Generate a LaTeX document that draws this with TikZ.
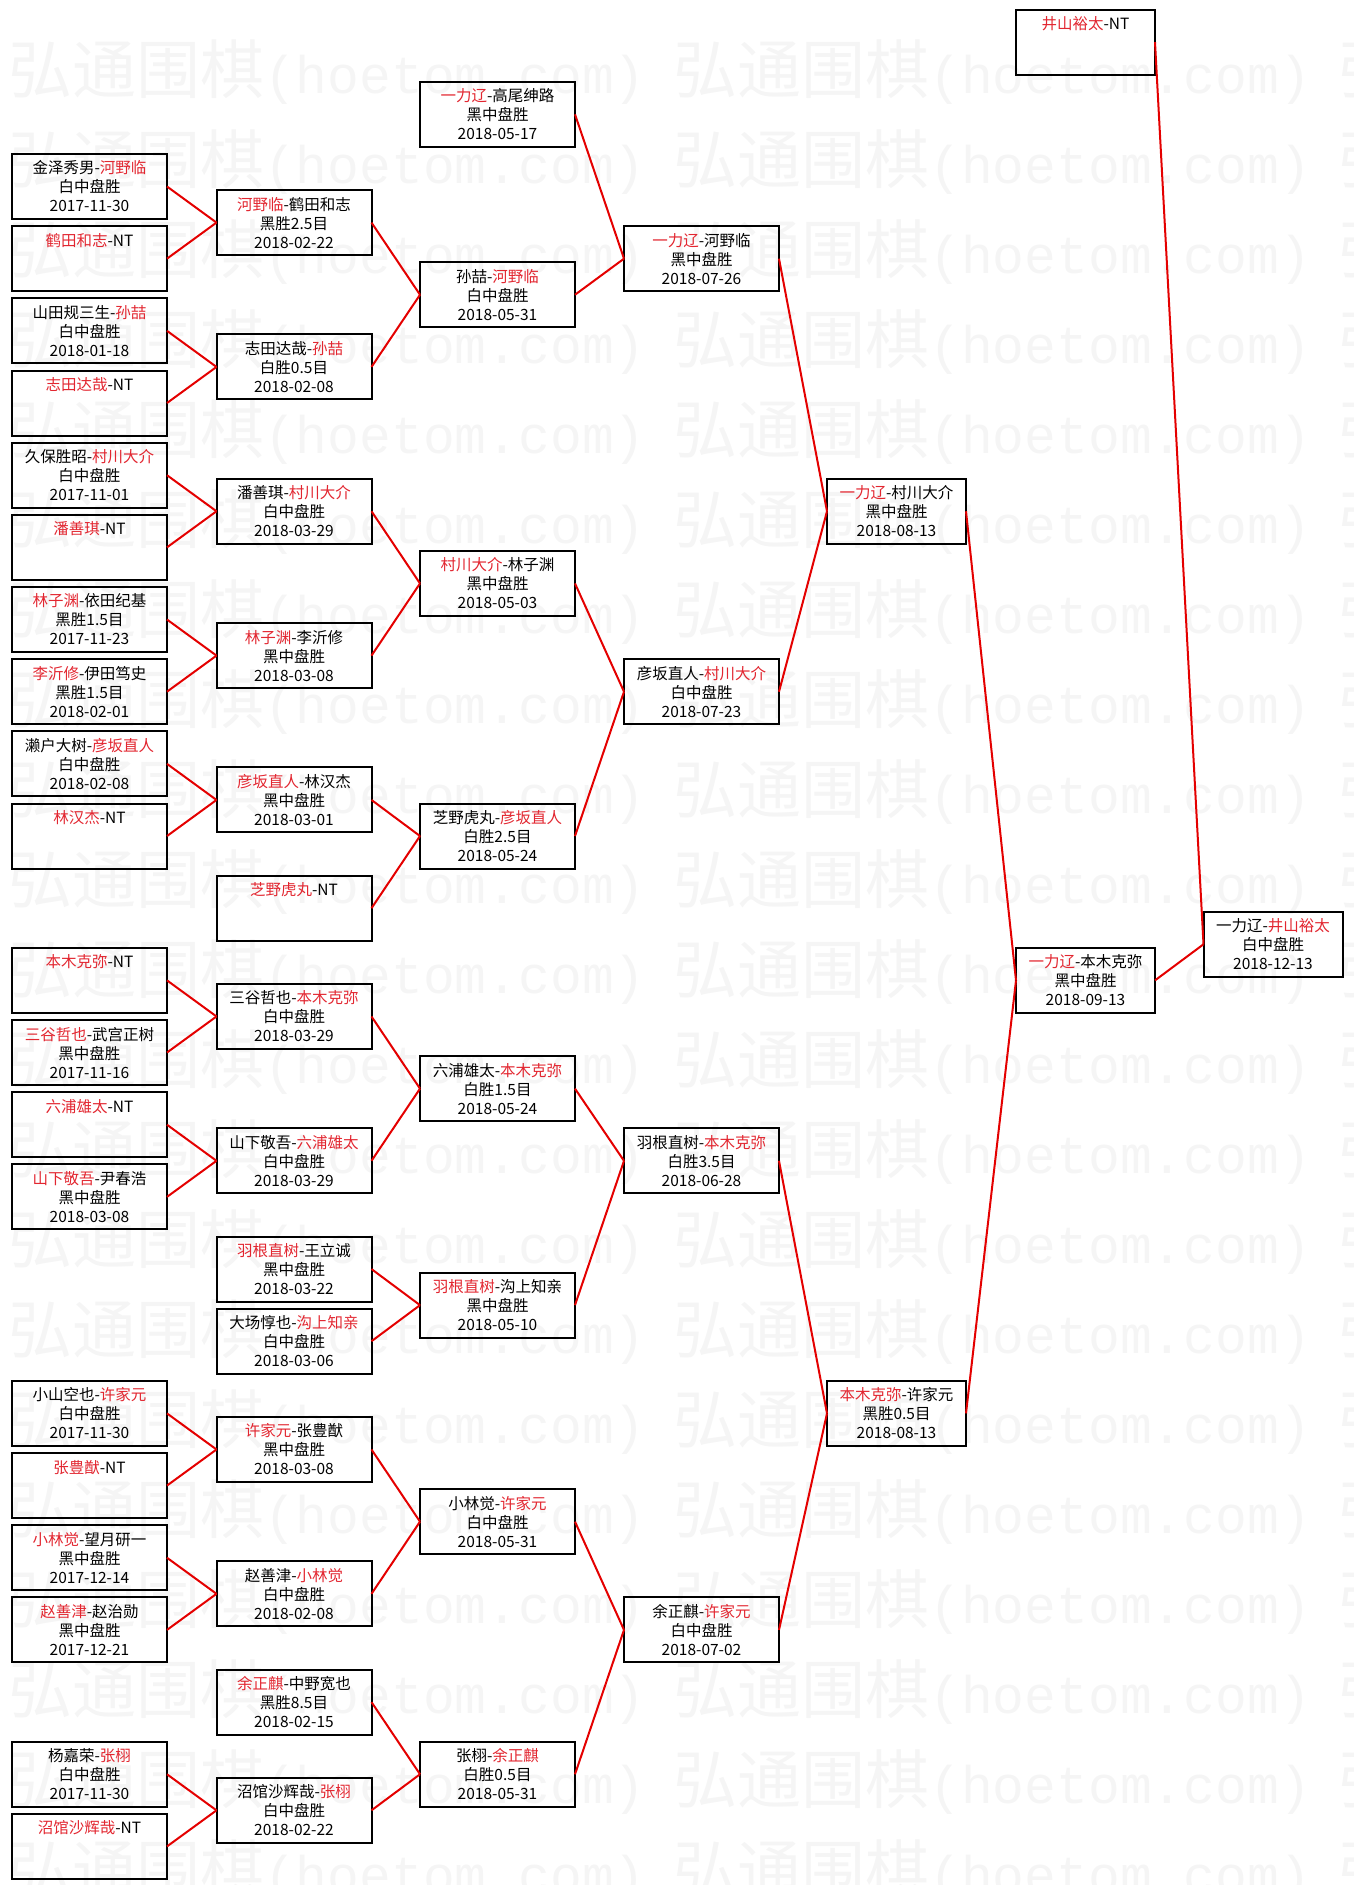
\documentclass[tikz,border=0pt]{standalone}
\usepackage{fontspec}
\setmainfont{Noto Sans CJK SC}
\newfontfamily\wmmono{Liberation Mono}
\definecolor{wred}{RGB}{226,38,48}
\definecolor{linkred}{RGB}{228,0,0}
\definecolor{wmgray}{RGB}{245,245,245}
\newcommand{\W}[1]{\textcolor{wred}{#1}}
\newcommand{\ntline}{\\\phantom{白}\\\phantom{2}}
\tikzset{
  gbox/.style={draw=black, line width=2pt, minimum width=155pt, minimum height=65pt,
    inner sep=0pt, outer sep=0pt, align=center, font=\fontsize{15.5}{19}\selectfont},
  nbox/.style={gbox, minimum width=139pt},
  link/.style={draw=linkred, line width=2pt},
  wm/.style={text=wmgray, inner sep=0pt, anchor=west}
}
\begin{document}
\begin{tikzpicture}[x=1pt,y=-1pt]
\useasboundingbox (0,0) rectangle (1353,1885);
% watermark
\begin{scope}
\clip (0,0) rectangle (1353,1885);
\foreach \n in {0,...,20}{
  \foreach \m in {0,1,2}{
    \node[wm] (wm-\n-\m) at ({8+665*\m},{72+90*\n})
      {{\fontsize{64}{64}\selectfont 弘通围棋}{\wmmono\fontsize{53}{53}\selectfont(hoetom.com)}};
  }
}
\end{scope}
% column 1
\node[gbox] (a0)  at (89.5,{186.5+72.17*0})  {金泽秀男-\W{河野临}\\白中盘胜\\2017-11-30};
\node[gbox] (a1)  at (89.5,{186.5+72.17*1})  {\W{鹤田和志}-NT\ntline};
\node[gbox] (a2)  at (89.5,{186.5+72.17*2})  {山田规三生-\W{孙喆}\\白中盘胜\\2018-01-18};
\node[gbox] (a3)  at (89.5,{186.5+72.17*3})  {\W{志田达哉}-NT\ntline};
\node[gbox] (a4)  at (89.5,{186.5+72.17*4})  {久保胜昭-\W{村川大介}\\白中盘胜\\2017-11-01};
\node[gbox] (a5)  at (89.5,{186.5+72.17*5})  {\W{潘善琪}-NT\ntline};
\node[gbox] (a6)  at (89.5,{186.5+72.17*6})  {\W{林子渊}-依田纪基\\黑胜1.5目\\2017-11-23};
\node[gbox] (a7)  at (89.5,{186.5+72.17*7})  {\W{李沂修}-伊田笃史\\黑胜1.5目\\2018-02-01};
\node[gbox] (a8)  at (89.5,{186.5+72.17*8})  {濑户大树-\W{彦坂直人}\\白中盘胜\\2018-02-08};
\node[gbox] (a9)  at (89.5,{186.5+72.17*9})  {\W{林汉杰}-NT\ntline};
\node[gbox] (a11) at (89.5,{186.5+72.17*11}) {\W{本木克弥}-NT\ntline};
\node[gbox] (a12) at (89.5,{186.5+72.17*12}) {\W{三谷哲也}-武宫正树\\黑中盘胜\\2017-11-16};
\node[gbox] (a13) at (89.5,{186.5+72.17*13}) {\W{六浦雄太}-NT\ntline};
\node[gbox] (a14) at (89.5,{186.5+72.17*14}) {\W{山下敬吾}-尹春浩\\黑中盘胜\\2018-03-08};
\node[gbox] (a17) at (89.5,{186.5+72.17*17}) {小山空也-\W{许家元}\\白中盘胜\\2017-11-30};
\node[gbox] (a18) at (89.5,{186.5+72.17*18}) {\W{张豊猷}-NT\ntline};
\node[gbox] (a19) at (89.5,{186.5+72.17*19}) {\W{小林觉}-望月研一\\黑中盘胜\\2017-12-14};
\node[gbox] (a20) at (89.5,{186.5+72.17*20}) {\W{赵善津}-赵治勋\\黑中盘胜\\2017-12-21};
\node[gbox] (a22) at (89.5,{186.5+72.17*22}) {杨嘉荣-\W{张栩}\\白中盘胜\\2017-11-30};
\node[gbox] (a23) at (89.5,{186.5+72.17*23}) {\W{沼馆沙辉哉}-NT\ntline};
% column 2
\node[gbox] (b0)  at (294,{186.5+72.17*0.5})  {\W{河野临}-鹤田和志\\黑胜2.5目\\2018-02-22};
\node[gbox] (b2)  at (294,{186.5+72.17*2.5})  {志田达哉-\W{孙喆}\\白胜0.5目\\2018-02-08};
\node[gbox] (b4)  at (294,{186.5+72.17*4.5})  {潘善琪-\W{村川大介}\\白中盘胜\\2018-03-29};
\node[gbox] (b6)  at (294,{186.5+72.17*6.5})  {\W{林子渊}-李沂修\\黑中盘胜\\2018-03-08};
\node[gbox] (b8)  at (294,{186.5+72.17*8.5})  {\W{彦坂直人}-林汉杰\\黑中盘胜\\2018-03-01};
\node[gbox] (b10) at (294,{186.5+72.17*10})   {\W{芝野虎丸}-NT\ntline};
\node[gbox] (b11) at (294,{186.5+72.17*11.5}) {三谷哲也-\W{本木克弥}\\白中盘胜\\2018-03-29};
\node[gbox] (b13) at (294,{186.5+72.17*13.5}) {山下敬吾-\W{六浦雄太}\\白中盘胜\\2018-03-29};
\node[gbox] (b15) at (294,{186.5+72.17*15})   {\W{羽根直树}-王立诚\\黑中盘胜\\2018-03-22};
\node[gbox] (b16) at (294,{186.5+72.17*16})   {大场惇也-\W{沟上知亲}\\白中盘胜\\2018-03-06};
\node[gbox] (b17) at (294,{186.5+72.17*17.5}) {\W{许家元}-张豊猷\\黑中盘胜\\2018-03-08};
\node[gbox] (b19) at (294,{186.5+72.17*19.5}) {赵善津-\W{小林觉}\\白中盘胜\\2018-02-08};
\node[gbox] (b21) at (294,{186.5+72.17*21})   {\W{余正麒}-中野宽也\\黑胜8.5目\\2018-02-15};
\node[gbox] (b22) at (294,{186.5+72.17*22.5}) {沼馆沙辉哉-\W{张栩}\\白中盘胜\\2018-02-22};
% column 3
\node[gbox] (c0)  at (497.5,{186.5+72.17*(-1)}) {\W{一力辽}-高尾绅路\\黑中盘胜\\2018-05-17};
\node[gbox] (c1)  at (497.5,{186.5+72.17*1.5})  {孙喆-\W{河野临}\\白中盘胜\\2018-05-31};
\node[gbox] (c5)  at (497.5,{186.5+72.17*5.5})  {\W{村川大介}-林子渊\\黑中盘胜\\2018-05-03};
\node[gbox] (c9)  at (497.5,{186.5+72.17*9})    {芝野虎丸-\W{彦坂直人}\\白胜2.5目\\2018-05-24};
\node[gbox] (c12) at (497.5,{186.5+72.17*12.5}) {六浦雄太-\W{本木克弥}\\白胜1.5目\\2018-05-24};
\node[gbox] (c15) at (497.5,{186.5+72.17*15.5}) {\W{羽根直树}-沟上知亲\\黑中盘胜\\2018-05-10};
\node[gbox] (c18) at (497.5,{186.5+72.17*18.5}) {小林觉-\W{许家元}\\白中盘胜\\2018-05-31};
\node[gbox] (c22) at (497.5,{186.5+72.17*22})   {张栩-\W{余正麒}\\白胜0.5目\\2018-05-31};
% column 4
\node[gbox] (d1)  at (701.5,{186.5+72.17*1})    {\W{一力辽}-河野临\\黑中盘胜\\2018-07-26};
\node[gbox] (d7)  at (701.5,{186.5+72.17*7})    {彦坂直人-\W{村川大介}\\白中盘胜\\2018-07-23};
\node[gbox] (d13) at (701.5,{186.5+72.17*13.5}) {羽根直树-\W{本木克弥}\\白胜3.5目\\2018-06-28};
\node[gbox] (d20) at (701.5,{186.5+72.17*20})   {余正麒-\W{许家元}\\白中盘胜\\2018-07-02};
% column 5
\node[nbox] (e4)  at (896.5,{186.5+72.17*4.5})  {\W{一力辽}-村川大介\\黑中盘胜\\2018-08-13};
\node[nbox] (e17) at (896.5,{186.5+72.17*17})   {\W{本木克弥}-许家元\\黑胜0.5目\\2018-08-13};
% column 6
\node[nbox] (f0)  at (1085.5,{186.5+72.17*(-2)}) {\W{井山裕太}-NT\ntline};
\node[nbox] (f11) at (1085.5,{186.5+72.17*11})   {\W{一力辽}-本木克弥\\黑中盘胜\\2018-09-13};
% column 7
\node[nbox] (g)   at (1273,{186.5+72.17*10.5})   {一力辽-\W{井山裕太}\\白中盘胜\\2018-12-13};
% connectors
\foreach \s/\t in {a0/b0,a1/b0,a2/b2,a3/b2,a4/b4,a5/b4,a6/b6,a7/b6,a8/b8,a9/b8,
  a11/b11,a12/b11,a13/b13,a14/b13,a17/b17,a18/b17,a19/b19,a20/b19,a22/b22,a23/b22,
  b0/c1,b2/c1,b4/c5,b6/c5,b8/c9,b10/c9,b11/c12,b13/c12,b15/c15,b16/c15,b17/c18,b19/c18,b21/c22,b22/c22,
  c0/d1,c1/d1,c5/d7,c9/d7,c12/d13,c15/d13,c18/d20,c22/d20,
  d1/e4,d7/e4,d13/e17,d20/e17,
  e4/f11,e17/f11,
  f0/g,f11/g}
  \draw[link] (\s.east) -- (\t.west);
\end{tikzpicture}
\end{document}
